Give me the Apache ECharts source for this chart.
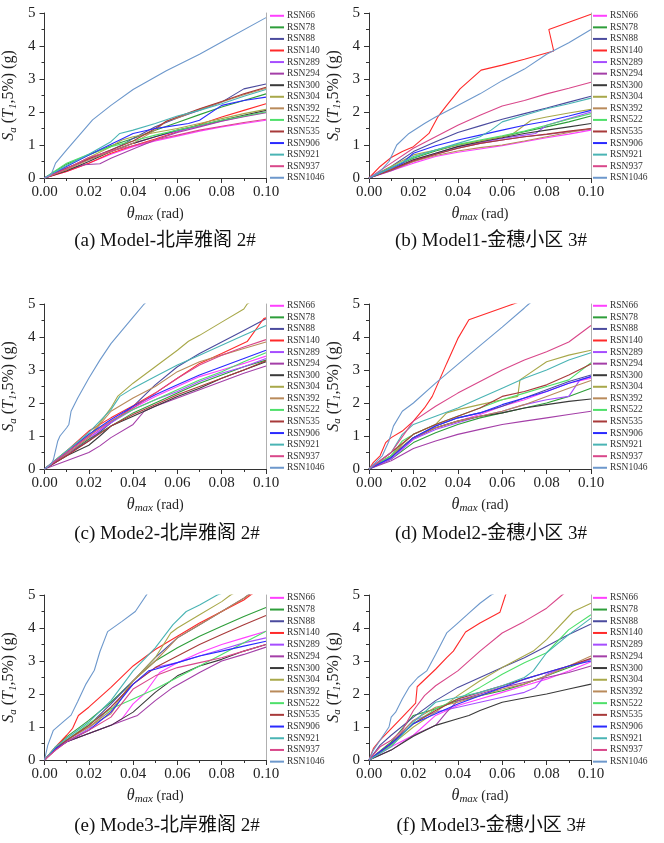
<!DOCTYPE html>
<html><head><meta charset="utf-8">
<script src="https://cdn.jsdelivr.net/npm/echarts@6/dist/echarts.min.js"></script>
<style>html,body{margin:0;padding:0;background:#fff}#c{width:664px;height:843px}</style>
</head><body><div id="c"></div>
<script>
// ---- names, colours, labels ----
const seriesNames = ['RSN66','RSN78','RSN88','RSN140','RSN289','RSN294','RSN300','RSN304','RSN392','RSN522','RSN535','RSN906','RSN921','RSN937','RSN1046'];
const seriesColors = ['#ff40ff','#2e9e3a','#4b4b9e','#ff2a2a','#a64dff','#a43fa8','#3a3a3a','#a8a84a','#b98a5a','#4ee06a','#a83a3a','#2a2aff','#4ab4b4','#d9478a','#6d98cc'];
const panelTitles = ['(a) Model-北岸雅阁 2#','(b) Model1-金穗小区 3#','(c) Mode2-北岸雅阁 2#','(d) Model2-金穗小区 3#','(e) Mode3-北岸雅阁 2#','(f) Model3-金穗小区 3#'];
const xRange = [0, 0.1];
const yRange = [0, 5];

// ---- panel (a): [theta, Sa] pairs, one list per record in seriesNames order ----
const panelA = [
 [[0,0],[0.01,0.2],[0.02,0.45],[0.03,0.72],[0.04,0.95],[0.05,1.12],[0.06,1.27],[0.07,1.42],[0.08,1.55],[0.09,1.65],[0.1,1.75]],
 [[0,0],[0.01,0.42],[0.02,0.7],[0.03,0.98],[0.04,1.2],[0.05,1.45],[0.06,1.68],[0.07,1.92],[0.08,2.15],[0.09,2.35],[0.1,2.55]],
 [[0,0],[0.01,0.28],[0.02,0.58],[0.03,0.85],[0.035,1.0],[0.04,1.2],[0.05,1.55],[0.06,1.82],[0.07,2.05],[0.08,2.3],[0.09,2.7],[0.1,2.85]],
 [[0,0],[0.01,0.2],[0.02,0.45],[0.03,0.75],[0.04,0.98],[0.05,1.18],[0.06,1.4],[0.07,1.62],[0.08,1.85],[0.09,2.05],[0.1,2.25]],
 [[0,0],[0.01,0.3],[0.02,0.55],[0.03,0.8],[0.04,1.05],[0.05,1.25],[0.06,1.42],[0.07,1.57],[0.08,1.73],[0.09,1.87],[0.1,2.0]],
 [[0,0],[0.01,0.25],[0.018,0.4],[0.025,0.43],[0.03,0.6],[0.04,0.88],[0.05,1.15],[0.06,1.38],[0.07,1.55],[0.08,1.72],[0.09,1.86],[0.1,1.98]],
 [[0,0],[0.01,0.22],[0.02,0.5],[0.03,0.8],[0.04,1.05],[0.05,1.25],[0.06,1.45],[0.07,1.6],[0.08,1.75],[0.09,1.9],[0.1,2.05]],
 [[0,0],[0.01,0.28],[0.02,0.62],[0.03,0.95],[0.035,1.15],[0.04,1.25],[0.05,1.38],[0.06,1.5],[0.07,1.65],[0.08,1.8],[0.09,1.95],[0.1,2.08]],
 [[0,0],[0.01,0.25],[0.02,0.55],[0.03,0.8],[0.04,1.05],[0.05,1.45],[0.055,1.72],[0.06,1.82],[0.07,2.08],[0.08,2.3],[0.09,2.52],[0.1,2.72]],
 [[0,0],[0.01,0.45],[0.02,0.72],[0.03,0.95],[0.04,1.12],[0.05,1.3],[0.06,1.45],[0.07,1.6],[0.08,1.75],[0.09,1.88],[0.1,2.0]],
 [[0,0],[0.01,0.3],[0.02,0.58],[0.03,0.85],[0.04,1.12],[0.05,1.5],[0.055,1.72],[0.06,1.85],[0.07,2.1],[0.08,2.32],[0.09,2.55],[0.1,2.75]],
 [[0,0],[0.01,0.35],[0.02,0.7],[0.03,1.02],[0.04,1.35],[0.05,1.5],[0.055,1.55],[0.065,1.65],[0.07,1.75],[0.08,2.2],[0.09,2.35],[0.1,2.45]],
 [[0,0],[0.01,0.38],[0.02,0.72],[0.03,1.1],[0.034,1.35],[0.04,1.45],[0.05,1.65],[0.06,1.88],[0.07,2.05],[0.08,2.25],[0.09,2.48],[0.1,2.68]],
 [[0,0],[0.01,0.28],[0.02,0.62],[0.03,0.82],[0.04,0.98],[0.05,1.15],[0.06,1.3],[0.07,1.45],[0.08,1.57],[0.09,1.68],[0.1,1.78]],
 [[0,0],[0.003,0.1],[0.005,0.45],[0.01,0.85],[0.0217,1.76],[0.03,2.2],[0.04,2.68],[0.055,3.25],[0.07,3.75],[0.08,4.12],[0.1,4.86]]
];

// ---- panel (b) ----
const panelB = [
 [[0,0],[0.01,0.22],[0.02,0.45],[0.03,0.65],[0.04,0.78],[0.05,0.88],[0.06,0.98],[0.07,1.1],[0.08,1.22],[0.09,1.33],[0.1,1.45]],
 [[0,0],[0.01,0.3],[0.02,0.6],[0.03,0.82],[0.04,1.0],[0.05,1.12],[0.06,1.25],[0.07,1.4],[0.08,1.55],[0.09,1.7],[0.1,1.88]],
 [[0,0],[0.01,0.35],[0.02,0.8],[0.03,1.1],[0.04,1.38],[0.05,1.58],[0.06,1.78],[0.07,1.95],[0.08,2.12],[0.09,2.3],[0.1,2.48]],
 [[0,0],[0.005,0.35],[0.01,0.62],[0.015,0.8],[0.02,0.95],[0.027,1.35],[0.031,1.85],[0.035,2.2],[0.041,2.7],[0.0505,3.27],[0.06,3.42],[0.07,3.6],[0.0832,3.85],[0.081,4.5],[0.1,4.96]],
 [[0,0],[0.01,0.28],[0.02,0.55],[0.03,0.75],[0.04,0.95],[0.05,1.08],[0.06,1.2],[0.07,1.3],[0.075,1.35],[0.08,1.6],[0.09,1.8],[0.1,2.0]],
 [[0,0],[0.01,0.22],[0.02,0.5],[0.03,0.72],[0.04,0.9],[0.05,1.05],[0.06,1.15],[0.07,1.25],[0.08,1.32],[0.09,1.4],[0.1,1.48]],
 [[0,0],[0.01,0.25],[0.02,0.55],[0.03,0.75],[0.04,0.95],[0.05,1.1],[0.06,1.22],[0.07,1.35],[0.08,1.45],[0.09,1.55],[0.1,1.65]],
 [[0,0],[0.01,0.35],[0.02,0.7],[0.03,0.85],[0.04,1.0],[0.05,1.12],[0.06,1.25],[0.065,1.35],[0.073,1.75],[0.08,1.85],[0.09,1.97],[0.1,2.08]],
 [[0,0],[0.01,0.25],[0.02,0.5],[0.03,0.68],[0.04,0.82],[0.05,0.92],[0.06,1.0],[0.07,1.12],[0.08,1.25],[0.09,1.38],[0.1,1.5]],
 [[0,0],[0.01,0.32],[0.02,0.62],[0.03,0.85],[0.04,1.02],[0.05,1.15],[0.06,1.28],[0.07,1.42],[0.08,1.6],[0.09,1.78],[0.1,1.95]],
 [[0,0],[0.01,0.25],[0.02,0.52],[0.03,0.72],[0.04,0.9],[0.05,1.05],[0.06,1.15],[0.07,1.25],[0.08,1.33],[0.09,1.42],[0.1,1.5]],
 [[0,0],[0.01,0.3],[0.015,0.45],[0.02,0.75],[0.03,0.98],[0.04,1.15],[0.05,1.3],[0.06,1.45],[0.07,1.6],[0.08,1.72],[0.09,1.88],[0.1,2.05]],
 [[0,0],[0.01,0.3],[0.02,0.65],[0.03,0.85],[0.04,1.05],[0.05,1.25],[0.055,1.45],[0.06,1.7],[0.07,1.9],[0.08,2.1],[0.09,2.25],[0.1,2.42]],
 [[0,0],[0.01,0.45],[0.02,0.9],[0.03,1.25],[0.04,1.6],[0.05,1.9],[0.06,2.18],[0.07,2.35],[0.08,2.55],[0.09,2.72],[0.1,2.9]],
 [[0,0],[0.005,0.2],[0.009,0.5],[0.0125,1.0],[0.018,1.35],[0.025,1.65],[0.03,1.85],[0.04,2.2],[0.05,2.55],[0.06,2.95],[0.07,3.3],[0.08,3.75],[0.09,4.1],[0.1,4.5]]
];

// ---- panel (c) ----
const panelC = [
 [[0,0],[0.01,0.4],[0.02,0.9],[0.03,1.45],[0.04,1.85],[0.05,2.2],[0.06,2.5],[0.07,2.8],[0.08,3.0],[0.09,3.2],[0.1,3.42]],
 [[0,0],[0.01,0.45],[0.02,0.9],[0.03,1.3],[0.04,1.7],[0.05,2.0],[0.06,2.3],[0.07,2.6],[0.08,2.85],[0.09,3.1],[0.1,3.3]],
 [[0,0],[0.01,0.45],[0.02,0.85],[0.03,1.4],[0.04,1.9],[0.05,2.55],[0.06,3.1],[0.07,3.5],[0.08,3.85],[0.09,4.2],[0.1,4.55]],
 [[0,0],[0.01,0.55],[0.02,1.15],[0.03,1.55],[0.04,1.92],[0.05,2.3],[0.06,2.75],[0.07,3.2],[0.08,3.5],[0.0915,3.86],[0.099,4.56],[0.1,4.58]],
 [[0,0],[0.01,0.45],[0.02,0.95],[0.03,1.4],[0.04,1.8],[0.05,2.1],[0.06,2.35],[0.07,2.65],[0.08,2.9],[0.09,3.1],[0.1,3.35]],
 [[0,0],[0.01,0.25],[0.02,0.5],[0.025,0.7],[0.03,0.95],[0.04,1.35],[0.045,1.75],[0.05,1.9],[0.06,2.15],[0.07,2.4],[0.08,2.65],[0.09,2.9],[0.1,3.12]],
 [[0,0],[0.01,0.4],[0.02,0.72],[0.025,1.0],[0.03,1.3],[0.04,1.6],[0.05,1.9],[0.06,2.2],[0.07,2.45],[0.08,2.75],[0.09,3.0],[0.1,3.25]],
 [[0,0],[0.01,0.5],[0.02,1.0],[0.025,1.4],[0.03,1.85],[0.033,2.2],[0.04,2.6],[0.05,3.1],[0.06,3.6],[0.065,3.87],[0.07,4.05],[0.08,4.45],[0.09,4.85],[0.0915,5.0],[0.095,5.15]],
 [[0,0],[0.01,0.45],[0.02,0.95],[0.03,1.75],[0.04,2.15],[0.05,2.5],[0.06,2.95],[0.07,3.25],[0.08,3.45],[0.09,3.65],[0.1,3.85]],
 [[0,0],[0.01,0.55],[0.02,1.05],[0.03,1.45],[0.04,1.8],[0.05,2.1],[0.06,2.4],[0.07,2.7],[0.08,2.95],[0.09,3.25],[0.1,3.52]],
 [[0,0],[0.01,0.4],[0.02,0.85],[0.03,1.3],[0.04,1.65],[0.05,1.95],[0.06,2.25],[0.07,2.5],[0.08,2.75],[0.09,3.0],[0.1,3.28]],
 [[0,0],[0.01,0.5],[0.02,1.05],[0.03,1.5],[0.04,1.9],[0.05,2.25],[0.06,2.55],[0.07,2.85],[0.08,3.1],[0.09,3.35],[0.1,3.6]],
 [[0,0],[0.01,0.55],[0.02,1.1],[0.03,1.8],[0.034,2.2],[0.04,2.45],[0.05,2.8],[0.06,3.15],[0.07,3.45],[0.08,3.75],[0.09,4.05],[0.1,4.35]],
 [[0,0],[0.01,0.5],[0.02,1.0],[0.03,1.45],[0.04,1.85],[0.05,2.3],[0.06,2.75],[0.07,3.15],[0.08,3.45],[0.09,3.7],[0.1,3.92]],
 [[0,0],[0.003,0.15],[0.004,0.28],[0.006,0.85],[0.007,1.0],[0.01,1.25],[0.011,1.35],[0.012,1.75],[0.015,2.15],[0.02,2.75],[0.025,3.3],[0.03,3.8],[0.035,4.2],[0.04,4.6],[0.045,5.0],[0.05,5.3]]
];

// ---- panel (d) ----
const panelD = [
 [[0,0],[0.01,0.3],[0.02,0.9],[0.03,1.25],[0.04,1.45],[0.05,1.65],[0.06,1.9],[0.07,2.1],[0.08,2.35],[0.09,2.6],[0.1,2.75]],
 [[0,0],[0.01,0.3],[0.02,0.8],[0.03,1.1],[0.04,1.35],[0.05,1.55],[0.06,1.7],[0.07,1.85],[0.08,2.0],[0.09,2.2],[0.1,2.45]],
 [[0,0],[0.01,0.35],[0.02,0.95],[0.03,1.3],[0.04,1.55],[0.05,1.7],[0.06,1.9],[0.07,2.15],[0.08,2.4],[0.09,2.65],[0.1,2.85]],
 [[0,0],[0.002,0.2],[0.005,0.4],[0.0075,0.8],[0.01,0.95],[0.015,1.15],[0.02,1.45],[0.025,1.85],[0.0285,2.2],[0.035,3.2],[0.04,3.95],[0.045,4.52],[0.065,5.0],[0.07,5.12]],
 [[0,0],[0.01,0.3],[0.02,0.9],[0.03,1.2],[0.04,1.4],[0.05,1.6],[0.06,1.75],[0.07,1.95],[0.08,2.1],[0.09,2.2],[0.095,2.7],[0.1,2.8]],
 [[0,0],[0.01,0.25],[0.02,0.62],[0.03,0.85],[0.04,1.05],[0.05,1.2],[0.06,1.35],[0.07,1.45],[0.08,1.55],[0.09,1.65],[0.1,1.75]],
 [[0,0],[0.01,0.4],[0.02,0.95],[0.03,1.25],[0.04,1.45],[0.05,1.6],[0.06,1.7],[0.07,1.85],[0.08,1.95],[0.09,2.05],[0.1,2.12]],
 [[0,0],[0.01,0.4],[0.015,0.75],[0.02,1.05],[0.03,1.35],[0.035,1.7],[0.04,1.8],[0.05,1.95],[0.06,2.1],[0.067,2.2],[0.068,2.7],[0.08,3.25],[0.09,3.45],[0.1,3.6]],
 [[0,0],[0.01,0.4],[0.02,0.95],[0.03,1.25],[0.04,1.45],[0.05,1.6],[0.06,1.75],[0.07,1.95],[0.08,2.2],[0.09,2.45],[0.1,2.68]],
 [[0,0],[0.01,0.4],[0.015,0.85],[0.02,1.05],[0.03,1.35],[0.04,1.6],[0.05,1.85],[0.06,2.1],[0.07,2.3],[0.08,2.5],[0.09,2.7],[0.1,3.22]],
 [[0,0],[0.01,0.5],[0.02,1.05],[0.03,1.35],[0.04,1.6],[0.05,1.85],[0.06,2.2],[0.07,2.35],[0.08,2.55],[0.09,2.85],[0.1,3.18]],
 [[0,0],[0.01,0.35],[0.02,0.95],[0.03,1.3],[0.04,1.55],[0.05,1.7],[0.06,1.95],[0.07,2.15],[0.08,2.35],[0.09,2.6],[0.1,2.8]],
 [[0,0],[0.01,0.5],[0.015,1.05],[0.02,1.35],[0.03,1.6],[0.04,1.85],[0.05,2.15],[0.06,2.45],[0.07,2.75],[0.08,3.0],[0.09,3.3],[0.1,3.52]],
 [[0,0],[0.01,0.5],[0.02,1.45],[0.03,1.9],[0.04,2.3],[0.05,2.65],[0.06,3.0],[0.07,3.3],[0.08,3.55],[0.09,3.85],[0.1,4.35]],
 [[0,0],[0.003,0.2],[0.006,0.4],[0.009,0.85],[0.011,1.3],[0.015,1.75],[0.02,2.0],[0.03,2.6],[0.04,3.17],[0.05,3.74],[0.06,4.3],[0.07,4.88],[0.072,5.0],[0.075,5.15]]
];

// ---- panel (e) ----
const panelE = [
 [[0,0],[0.005,0.35],[0.01,0.55],[0.02,0.8],[0.03,1.05],[0.035,1.25],[0.04,1.7],[0.045,2.0],[0.052,2.65],[0.06,2.95],[0.07,3.25],[0.08,3.5],[0.09,3.7],[0.1,3.9]],
 [[0,0],[0.005,0.4],[0.01,0.7],[0.02,1.2],[0.03,1.75],[0.04,2.4],[0.05,3.0],[0.06,3.4],[0.07,3.75],[0.08,4.05],[0.09,4.35],[0.1,4.62]],
 [[0,0],[0.005,0.35],[0.01,0.6],[0.02,1.05],[0.03,1.7],[0.04,2.4],[0.05,3.1],[0.06,3.7],[0.07,4.1],[0.08,4.5],[0.09,4.9],[0.092,5.0],[0.095,5.12]],
 [[0,0],[0.005,0.4],[0.01,0.75],[0.0127,0.96],[0.0153,1.35],[0.02,1.6],[0.03,2.2],[0.04,2.85],[0.05,3.35],[0.06,3.75],[0.07,4.15],[0.08,4.5],[0.09,4.85],[0.093,5.0],[0.095,5.08]],
 [[0,0],[0.005,0.35],[0.01,0.55],[0.02,0.95],[0.03,1.6],[0.04,2.3],[0.047,2.65],[0.05,2.8],[0.06,2.95],[0.07,3.15],[0.08,3.35],[0.09,3.55],[0.1,3.7]],
 [[0,0],[0.005,0.3],[0.01,0.55],[0.02,0.8],[0.03,1.05],[0.04,1.3],[0.042,1.35],[0.05,1.8],[0.058,2.2],[0.07,2.65],[0.08,3.0],[0.09,3.2],[0.1,3.42]],
 [[0,0],[0.005,0.35],[0.01,0.55],[0.02,0.8],[0.03,1.05],[0.04,1.45],[0.05,2.05],[0.06,2.55],[0.07,2.85],[0.08,3.05],[0.09,3.3],[0.1,3.5]],
 [[0,0],[0.005,0.4],[0.01,0.6],[0.02,1.0],[0.03,1.5],[0.04,2.4],[0.05,3.1],[0.057,3.85],[0.06,4.0],[0.07,4.4],[0.08,4.8],[0.084,5.0],[0.09,5.2]],
 [[0,0],[0.005,0.35],[0.01,0.6],[0.02,1.0],[0.03,1.4],[0.04,2.4],[0.05,3.0],[0.06,3.7],[0.07,4.1],[0.08,4.5],[0.09,4.9],[0.092,5.0],[0.095,5.12]],
 [[0,0],[0.005,0.35],[0.01,0.6],[0.02,1.1],[0.03,1.55],[0.04,1.85],[0.05,2.15],[0.06,2.5],[0.07,2.85],[0.08,3.2],[0.09,3.55],[0.1,3.9]],
 [[0,0],[0.005,0.35],[0.01,0.6],[0.02,1.05],[0.03,1.6],[0.04,2.3],[0.05,2.8],[0.06,3.15],[0.07,3.5],[0.08,3.8],[0.09,4.1],[0.1,4.38]],
 [[0,0],[0.005,0.35],[0.01,0.55],[0.02,0.9],[0.03,1.45],[0.04,2.3],[0.047,2.7],[0.05,2.75],[0.06,2.95],[0.07,3.15],[0.08,3.3],[0.09,3.45],[0.1,3.6]],
 [[0,0],[0.005,0.4],[0.01,0.65],[0.02,1.15],[0.03,1.8],[0.04,2.7],[0.05,3.4],[0.058,4.1],[0.064,4.5],[0.07,4.7],[0.078,5.0],[0.08,5.05]],
 [[0,0],[0.005,0.3],[0.01,0.55],[0.02,0.9],[0.03,1.3],[0.04,2.15],[0.05,2.55],[0.06,2.8],[0.07,2.95],[0.08,3.1],[0.09,3.3],[0.1,3.5]],
 [[0,0],[0.0015,0.45],[0.004,0.9],[0.0075,1.1],[0.012,1.36],[0.015,1.77],[0.0187,2.3],[0.0225,2.72],[0.025,3.28],[0.0285,3.89],[0.035,4.2],[0.041,4.5],[0.0465,5.05]]
];

// ---- panel (f) ----
const panelF = [
 [[0,0],[0.01,0.4],[0.02,0.75],[0.03,1.35],[0.04,1.65],[0.05,1.85],[0.06,2.05],[0.07,2.25],[0.08,2.45],[0.09,2.7],[0.1,2.98]],
 [[0,0],[0.01,0.55],[0.02,1.35],[0.03,1.55],[0.04,1.8],[0.05,1.95],[0.06,2.1],[0.07,2.3],[0.08,2.55],[0.09,2.8],[0.1,3.05]],
 [[0,0],[0.005,0.45],[0.01,0.75],[0.02,1.3],[0.03,1.8],[0.04,2.2],[0.05,2.5],[0.06,2.8],[0.07,3.1],[0.08,3.45],[0.09,3.8],[0.1,4.12]],
 [[0,0],[0.002,0.35],[0.005,0.6],[0.01,0.95],[0.015,1.3],[0.021,1.72],[0.0217,2.22],[0.03,2.75],[0.035,3.1],[0.038,3.3],[0.0435,3.88],[0.05,4.15],[0.059,4.48],[0.0615,5.0],[0.063,5.2]],
 [[0,0],[0.01,0.5],[0.02,1.2],[0.03,1.45],[0.04,1.6],[0.05,1.75],[0.06,1.9],[0.07,2.05],[0.075,2.2],[0.08,2.6],[0.09,2.85],[0.1,3.05]],
 [[0,0],[0.01,0.3],[0.02,0.75],[0.03,1.05],[0.035,1.45],[0.04,1.8],[0.05,2.0],[0.06,2.2],[0.07,2.35],[0.08,2.5],[0.09,2.65],[0.1,2.85]],
 [[0,0],[0.01,0.3],[0.02,0.72],[0.03,1.05],[0.04,1.25],[0.045,1.35],[0.05,1.5],[0.06,1.75],[0.07,1.88],[0.08,2.0],[0.09,2.15],[0.1,2.3]],
 [[0,0],[0.01,0.45],[0.02,1.0],[0.03,1.45],[0.04,1.95],[0.05,2.4],[0.06,2.8],[0.074,3.3],[0.08,3.65],[0.092,4.5],[0.1,4.75]],
 [[0,0],[0.01,0.5],[0.02,1.2],[0.03,1.6],[0.04,1.75],[0.05,1.95],[0.06,2.15],[0.07,2.3],[0.08,2.55],[0.09,2.85],[0.1,3.15]],
 [[0,0],[0.01,0.45],[0.02,1.1],[0.03,1.55],[0.04,1.85],[0.05,2.2],[0.06,2.6],[0.07,2.95],[0.08,3.25],[0.09,3.95],[0.1,4.4]],
 [[0,0],[0.01,0.5],[0.02,1.1],[0.03,1.5],[0.04,1.85],[0.05,2.05],[0.06,2.25],[0.07,2.45],[0.08,2.65],[0.09,2.85],[0.1,3.08]],
 [[0,0],[0.01,0.5],[0.02,1.1],[0.03,1.4],[0.04,1.7],[0.05,1.95],[0.06,2.2],[0.07,2.45],[0.08,2.65],[0.09,2.85],[0.1,3.0]],
 [[0,0],[0.01,0.4],[0.02,1.15],[0.03,1.75],[0.04,1.9],[0.05,2.05],[0.06,2.25],[0.07,2.5],[0.074,2.7],[0.08,3.25],[0.09,3.8],[0.1,4.3]],
 [[0,0],[0.005,0.4],[0.01,0.6],[0.015,0.9],[0.02,1.5],[0.025,1.95],[0.03,2.25],[0.04,2.7],[0.05,3.3],[0.06,3.85],[0.07,4.2],[0.08,4.6],[0.087,5.0],[0.09,5.15]],
 [[0,0],[0.002,0.3],[0.005,0.6],[0.009,1.0],[0.01,1.3],[0.012,1.45],[0.015,1.85],[0.018,2.2],[0.022,2.5],[0.026,2.7],[0.03,3.2],[0.035,3.85],[0.04,4.15],[0.045,4.45],[0.05,4.75],[0.055,5.0],[0.058,5.1]]
];

const panels = [panelA, panelB, panelC, panelD, panelE, panelF];

// ---- layout ----
const SERIF = "'Liberation Serif','Times New Roman',serif";
const grids = [
  {left: 43, top: 13, width: 223, height: 165},
  {left: 369, top: 13, width: 222, height: 165},
  {left: 43, top: 304, width: 223, height: 165},
  {left: 369, top: 304, width: 222, height: 165},
  {left: 43, top: 595, width: 223, height: 165},
  {left: 369, top: 595, width: 222, height: 165}
];
const legendPos = [
  {left: 270, top: 10, gap: 11.57},
  {left: 593, top: 10, gap: 11.57},
  {left: 270, top: 300, gap: 11.57},
  {left: 593, top: 300, gap: 11.57},
  {left: 270, top: 592, gap: 11.7},
  {left: 593, top: 592, gap: 11.7}
];
const captionPos = [[165, 241], [491, 241], [167, 534], [491, 534], [167, 826], [491, 826]];

const axisColor = '#333';
const xAxes = [], yAxes = [], series = [], legends = [], graphics = [];

grids.forEach((g, p) => {
  xAxes.push({
    type: 'value', gridIndex: p, min: xRange[0], max: xRange[1], interval: 0.02,
    axisLine: {show: true, onZero: false, lineStyle: {color: axisColor, width: 1}},
    axisTick: {show: true, inside: false, length: 5, lineStyle: {color: axisColor}},
    minorTick: {show: true, splitNumber: 2, length: 3, lineStyle: {color: axisColor}},
    splitLine: {show: false},
    axisLabel: {fontFamily: SERIF, fontSize: 15, color: '#222', margin: 7,
      formatter: v => v.toFixed(2)},
    name: '{t|θ}{s|max}{n| (rad)}', nameLocation: 'middle', nameGap: 27,
    nameTextStyle: {rich: {
      t: {fontFamily: SERIF, fontSize: 16, fontStyle: 'italic', color: '#222', lineHeight: 18},
      s: {fontFamily: SERIF, fontSize: 11, fontStyle: 'italic', color: '#222', verticalAlign: 'bottom', lineHeight: 13},
      n: {fontFamily: SERIF, fontSize: 14, color: '#222', lineHeight: 18}
    }}
  });
  yAxes.push({
    type: 'value', gridIndex: p, min: yRange[0], max: yRange[1], interval: 1,
    axisLine: {show: true, onZero: false, lineStyle: {color: axisColor, width: 1}},
    axisTick: {show: true, inside: false, length: 5, lineStyle: {color: axisColor}},
    minorTick: {show: true, splitNumber: 2, length: 3, lineStyle: {color: axisColor}},
    splitLine: {show: false},
    axisLabel: {fontFamily: SERIF, fontSize: 15, color: '#222', margin: 9},
    name: '{i|S}{s|a}{n| (}{i|T}{s|1}{n|,5%) (g)}', nameLocation: 'middle', nameGap: 26, nameRotate: 90,
    nameTextStyle: {rich: {
      i: {fontFamily: SERIF, fontSize: 16, fontStyle: 'italic', color: '#222', lineHeight: 19},
      s: {fontFamily: SERIF, fontSize: 11, fontStyle: 'italic', color: '#222', verticalAlign: 'bottom', lineHeight: 13},
      n: {fontFamily: SERIF, fontSize: 16, color: '#222', lineHeight: 19}
    }}
  });
  // right frame line
  yAxes.push({
    type: 'value', gridIndex: p, position: 'right', min: yRange[0], max: yRange[1],
    axisLine: {show: true, onZero: false, lineStyle: {color: '#b0b0b0', width: 1}},
    axisTick: {show: false}, axisLabel: {show: false}, splitLine: {show: false}
  });

  panels[p].forEach((data, i) => {
    series.push({
      type: 'line', name: seriesNames[i], xAxisIndex: p, yAxisIndex: 2 * p,
      data: data, showSymbol: false, symbol: 'none', clip: true, silent: true,
      lineStyle: {color: seriesColors[i], width: 1.1},
      itemStyle: {color: seriesColors[i]},
      emphasis: {disabled: true}
    });
  });

  const lp = legendPos[p];
  legends.push({
    data: seriesNames, orient: 'vertical', left: lp.left, top: lp.top,
    padding: 0, itemGap: 0, itemWidth: 14, itemHeight: 2, icon: 'rect',
    selectedMode: false,
    textStyle: {fontFamily: SERIF, fontSize: 9.5, lineHeight: lp.gap, color: '#333', padding: [0, 0, 0, -2]}
  });

  graphics.push({
    type: 'text', x: captionPos[p][0], y: captionPos[p][1],
    style: {text: panelTitles[p], align: 'center', verticalAlign: 'middle',
      font: "19px 'Liberation Serif','Noto Sans CJK SC',serif", fill: '#111'}
  });
});

const chart = echarts.init(document.getElementById('c'), null, {renderer: 'canvas'});
chart.setOption({
  animation: false,
  backgroundColor: '#fff',
  grid: grids,
  xAxis: xAxes,
  yAxis: yAxes,
  legend: legends,
  series: series,
  graphic: graphics
});
</script>
</body></html>
